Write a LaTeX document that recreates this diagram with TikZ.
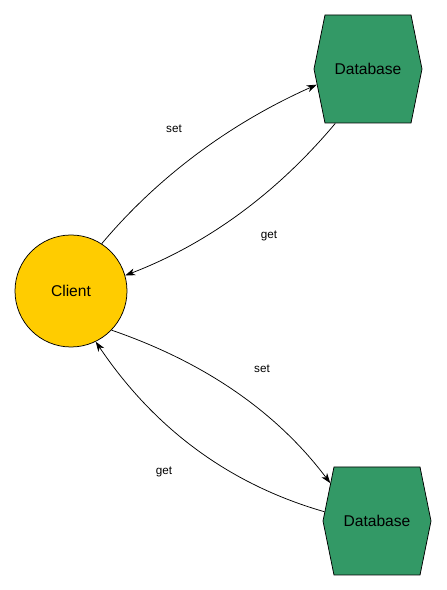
\documentclass[tikz,border=0pt]{standalone}
\usepackage{fontspec}
\setmainfont{Liberation Sans}
\usetikzlibrary{shapes.symbols, arrows.meta, positioning}
\definecolor{clientyellow}{HTML}{FFCC00}
\definecolor{dbgreen}{HTML}{339966}

\begin{document}
\begin{tikzpicture}[x=1pt, y=1pt,
  client/.style={circle, draw=black, line width=0.75pt, fill=clientyellow, minimum size=112pt, inner sep=0pt, font=\fontsize{15.6}{18}\selectfont},
  database/.style={signal, signal to=east and west, signal pointer angle=157, draw=black, line width=0.75pt, fill=dbgreen, minimum width=108pt, minimum height=108pt, inner sep=0pt, font=\fontsize{15.6}{18}\selectfont},
  edgelabel/.style={font=\fontsize{11.7}{14}\selectfont},
  arrow/.style={-{Stealth[length=10pt, width=7pt, inset=3pt]}, line width=0.75pt, draw=black}
]
  \useasboundingbox (0,0) rectangle (447,590);

  \node[client] (client) at (71,299) {Client};
  \node[database] (dbtop) at (368,521) {Database};
  \node[database] (dbbottom) at (377,69) {Database};

  \draw[arrow] (client.57) .. controls +(50:88) and +(204:94) .. (dbtop.197);
  \draw[arrow] (dbtop.239) .. controls +(230:87) and +(21:92) .. (client.16);
  \draw[arrow] (client.-44) .. controls +(-19:94) and +(127:93) .. (dbbottom.141);
  \draw[arrow] (dbbottom.170) .. controls +(164:94) and +(-56:110) .. (client.-64);

  \node[edgelabel] (settop) at (174,461) {set};
  \node[edgelabel] (gettop) at (269,354) {get};
  \node[edgelabel] (setbottom) at (262,221) {set};
  \node[edgelabel] (getbottom) at (164,118) {get};
\end{tikzpicture}
\end{document}
